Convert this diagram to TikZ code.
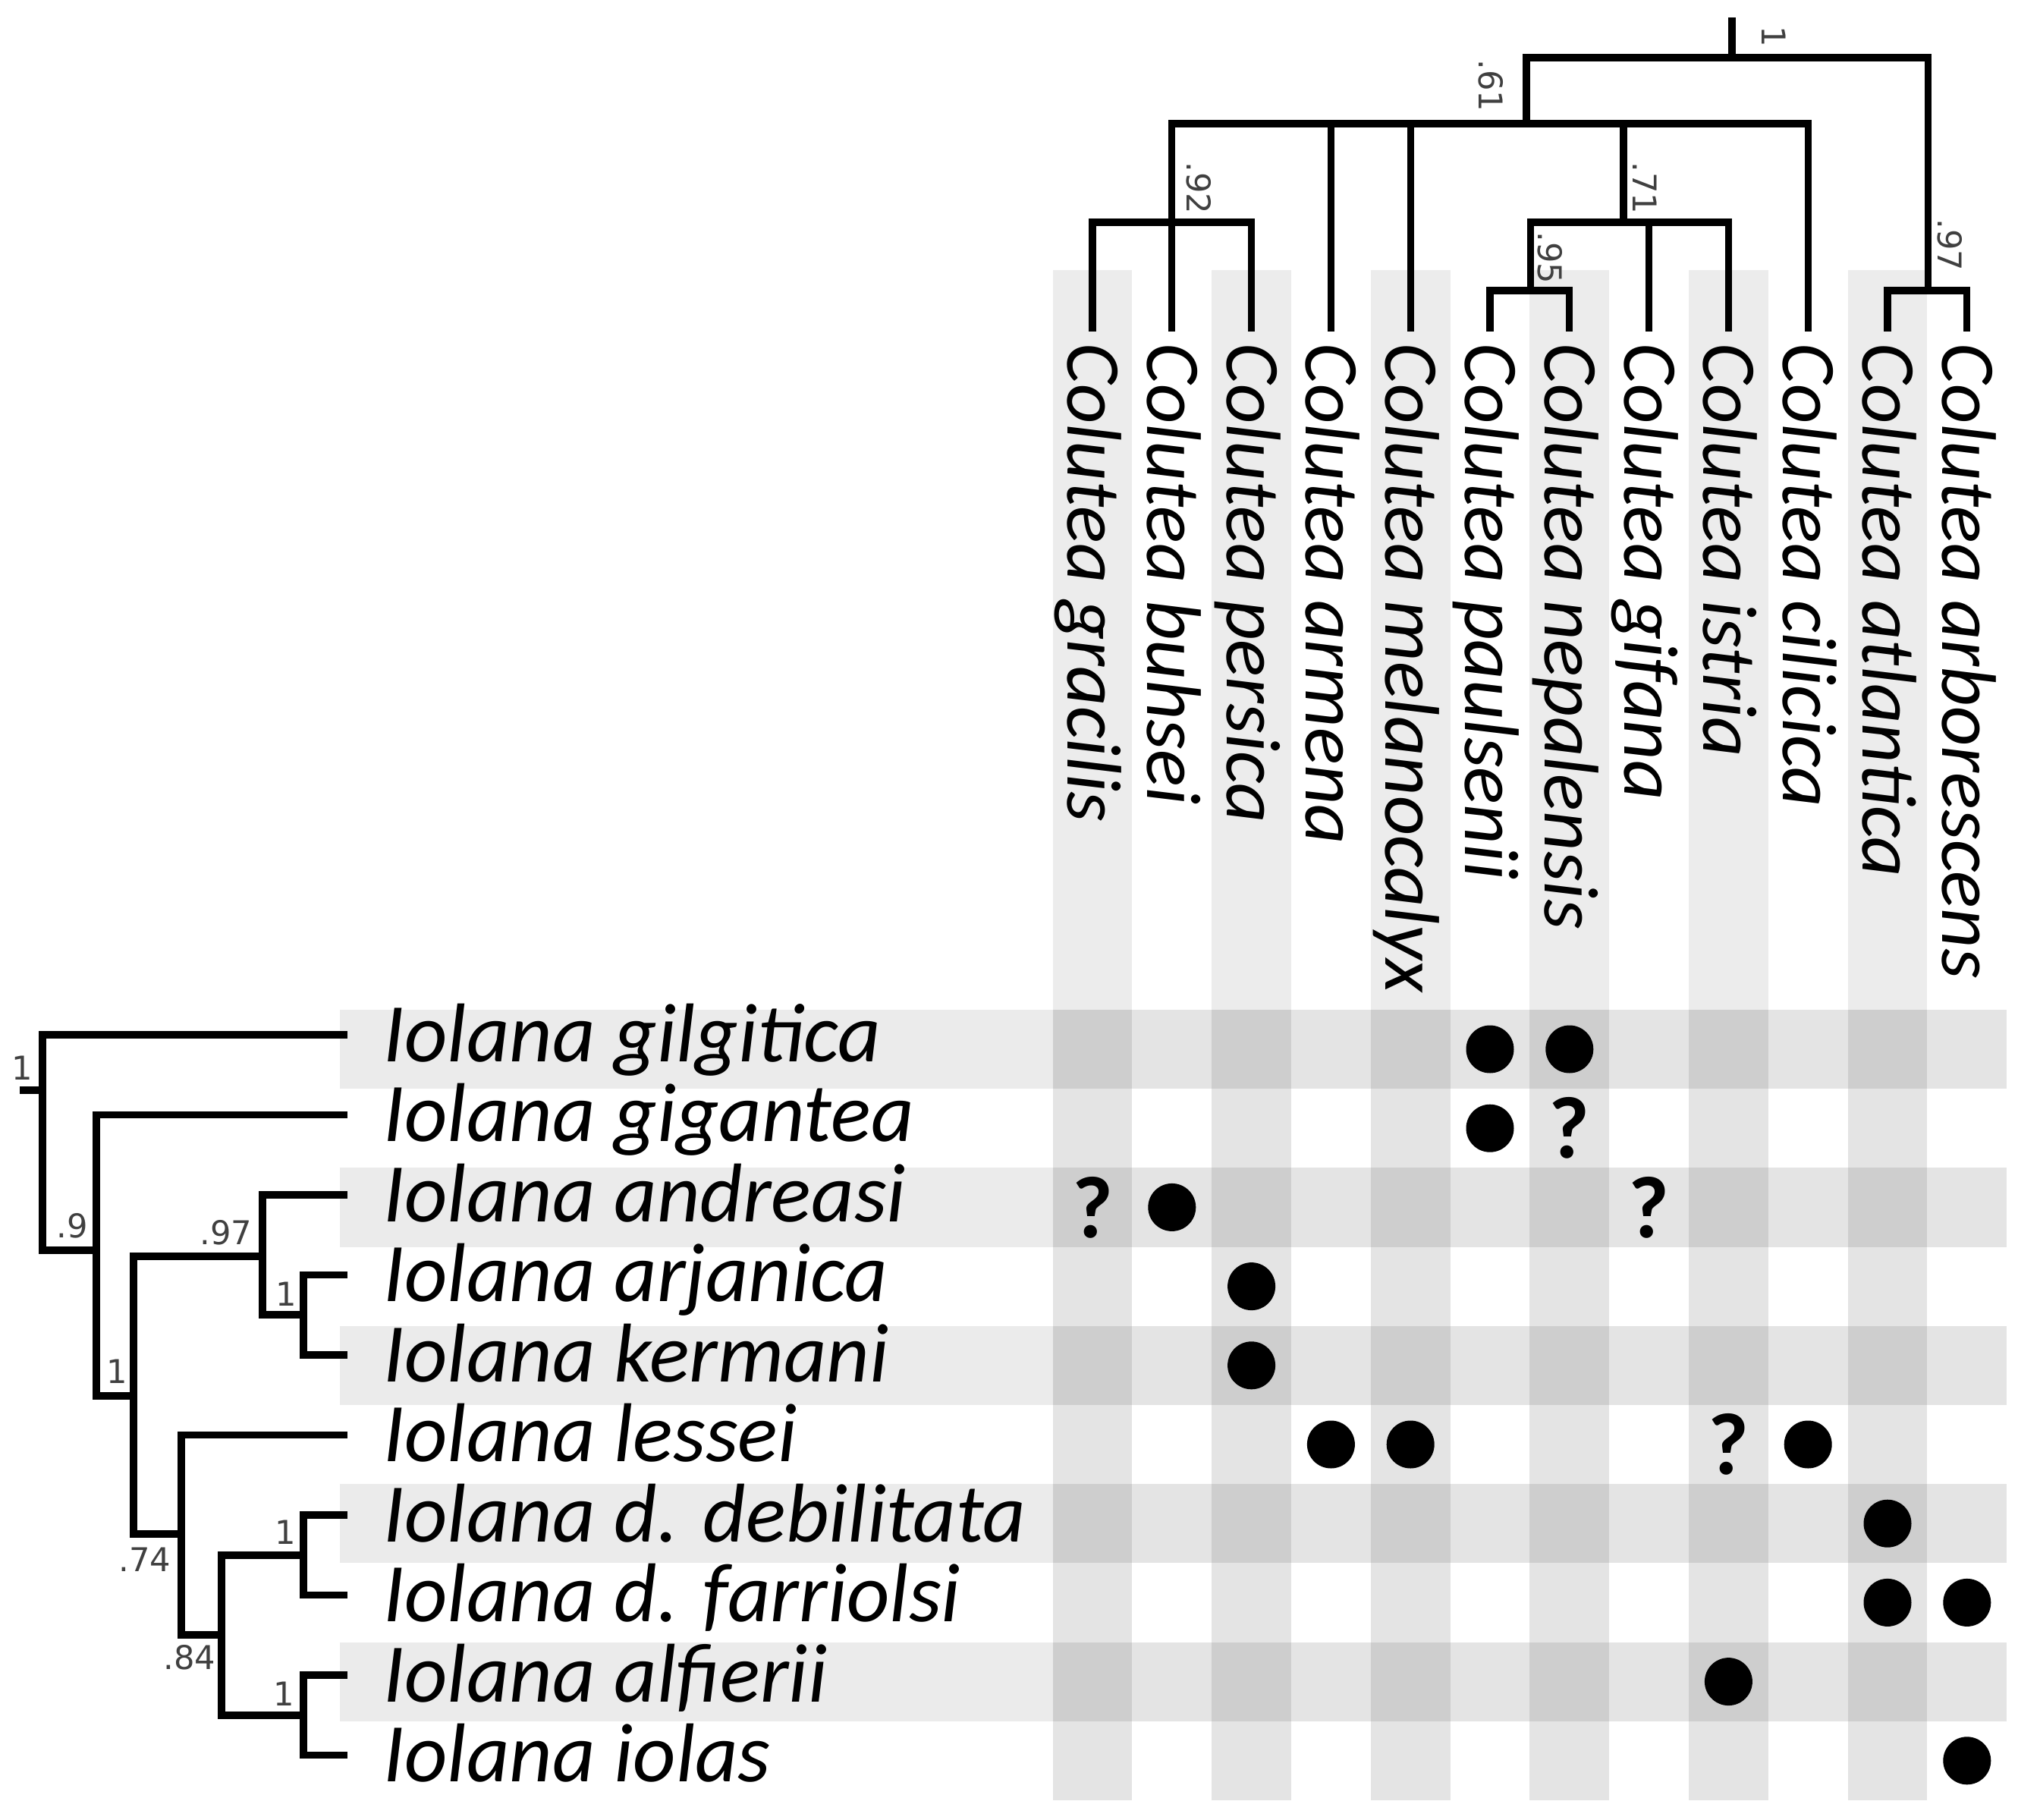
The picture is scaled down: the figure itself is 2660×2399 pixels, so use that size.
\documentclass[tikz,border=0pt]{standalone}
\usepackage{fontspec}
\setmainfont{Carlito}
\newfontfamily\supfont{DejaVu Sans}
\definecolor{colstripe}{HTML}{ECECEC}
\definecolor{rowstripe}{HTML}{EBEBEB}
\definecolor{cellone}{HTML}{E4E4E4}
\definecolor{celltwo}{HTML}{CECECE}
\begin{document}
\begin{tikzpicture}[x=0.25pt,y=-0.25pt,
  branch/.style={line width=2.3pt, line cap=rect, line join=miter},
  sup/.style={font=\supfont\fontsize{10.8}{11}\selectfont, text=black!75, inner sep=0pt},
  rowlab/.style={font=\itshape\fontsize{27.5}{28}\selectfont, anchor=west, inner sep=0pt, text height=17.6pt, text depth=0pt},
  collab/.style={font=\itshape\fontsize{25.5}{26}\selectfont, rotate=-90, anchor=west, inner sep=0pt, text height=16.3pt, text depth=0pt},
  present/.style={circle, fill=black, inner sep=0pt, minimum size=15.75pt},
  unsure/.style={font=\bfseries\fontsize{29}{30}\selectfont, inner sep=0pt},
]
\useasboundingbox (0,0) rectangle (2660,2399);

% shaded columns above the matrix
\foreach \c in {0,2,...,10}
  \fill[colstripe] ({1440+104.8*\c-52.4},356) rectangle ({1440+104.8*\c+52.4},1331);
% shaded rows beside the matrix
\foreach \r in {0,2,...,8}
  \fill[rowstripe] (448,{1331+104.2*\r}) rectangle (1387.6,{1331+104.2*\r+104.2});
% matrix: single shading
\foreach \c in {0,2,...,10}
  \fill[cellone] ({1440+104.8*\c-52.4},1331) rectangle ({1440+104.8*\c+52.4},2373);
\foreach \r in {0,2,...,8}
  \fill[cellone] (1387.6,{1331+104.2*\r}) rectangle (2645,{1331+104.2*\r+104.2});
% matrix: double shading
\foreach \c in {0,2,...,10}
  \foreach \r in {0,2,...,8}
    \fill[celltwo] ({1440+104.8*\c-52.4},{1331+104.2*\r}) rectangle ({1440+104.8*\c+52.4},{1331+104.2*\r+104.2});

% ---------- top tree (Colutea) ----------
\foreach \j in {0,...,11}
  \coordinate (t\j) at ({1440+104.8*\j},432);
\coordinate (T92c) at (1544.8,293);
\coordinate (T92) at (1544.8,163);
\coordinate (T95c) at (2017.4,383);
\coordinate (T95) at (2017.4,293);
\coordinate (T71c) at (2140,293);
\coordinate (T71) at (2140,163);
\coordinate (T61c) at (2012,163);
\coordinate (T61) at (2012,76);
\coordinate (T97c) at (2541.4,383);
\coordinate (T97) at (2541.4,76);
\coordinate (Troot) at (2283,76);
\coordinate (Ttop) at (2283,28);

\draw[branch] (t0) |- (T92c) -| (t2);
\draw[branch] (t1) -- (T92);
\draw[branch] (t5) |- (T95c) -| (t6);
\draw[branch] (T95c) -- (T95);
\draw[branch] (T95) -| (t8);
\draw[branch] (t7) -- (t7 |- T71c);
\draw[branch] (T71c) -- (T71);
\draw[branch] (T92) -| (t9);
\draw[branch] (t3) -- (t3 |- T61c);
\draw[branch] (t4) -- (t4 |- T61c);
\draw[branch] (T61c) -- (T61);
\draw[branch] (t10) |- (T97c) -| (t11);
\draw[branch] (T97c) -- (T97);
\draw[branch] (T61) -- (T97);
\draw[branch] (Troot) -- (Ttop);

\node[sup, rotate=-90] (sTroot) at (2338,48) {1};
\node[sup, rotate=-90] (sT61) at (1965,113) {.61};
\node[sup, rotate=-90] (sT92) at (1580,248) {.92};
\node[sup, rotate=-90] (sT71) at (2168,248) {.71};
\node[sup, rotate=-90] (sT95) at (2043,340) {.95};
\node[sup, rotate=-90] (sT97) at (2570,323) {.97};

\foreach \name [count=\j from 0] in {gracilis,buhsei,persica,armena,melanocalyx,paulsenii,nepalensis,gifana,istria,cilicica,atlantica,arborescens}
  \node[collab] (C\j) at ({1440+104.8*\j},452) {Colutea \name};

% ---------- left tree (Iolana) ----------
\foreach \name [count=\i from 0] in {gilgitica,gigantea,andreasi,arjanica,kermani,lessei,d. debilitata,d. farriolsi,alfierii,iolas}
{
  \coordinate (l\i) at (453,{1364+105.5*\i});
  \node[rowlab] (R\i) at (505,{1364+105.5*\i}) {Iolana \name};
}
\coordinate (Lrs) at (31,1437);
\coordinate (Lr) at (56,1437);
\coordinate (L9) at (127,1648);
\coordinate (L1) at (176,1840);
\coordinate (L97) at (346,1656);
\coordinate (Lak) at (400,1733);
\coordinate (L74) at (239,2022);
\coordinate (L84) at (292,2155);
\coordinate (Ldf) at (400,2050);
\coordinate (Lai) at (400,2261);

\draw[branch] (Lrs) -- (Lr);
\draw[branch] (l0) -| (Lr) |- (L9);
\draw[branch] (l1) -| (L9) |- (L1);
\draw[branch] (L97) -| (L1) |- (L74);
\draw[branch] (l2) -| (L97) |- (Lak);
\draw[branch] (l3) -| (Lak) |- (l4);
\draw[branch] (l5) -| (L74) |- (L84);
\draw[branch] (Ldf) -| (L84) |- (Lai);
\draw[branch] (l6) -| (Ldf) |- (l7);
\draw[branch] (l8) -| (Lai) |- (l9);

\node[sup] (sLr) at (29,1408) {1};
\node[sup] (sL9) at (95,1616) {.9};
\node[sup] (sL1) at (154,1808) {1};
\node[sup] (sL97) at (298,1625) {.97};
\node[sup] (sLak) at (377,1706) {1};
\node[sup] (sL74) at (191,2056) {.74};
\node[sup] (sL84) at (250,2185) {.84};
\node[sup] (sLdf) at (376,2020) {1};
\node[sup] (sLai) at (374,2233) {1};

% ---------- matrix marks ----------
\foreach \r/\c in {0/5,0/6,1/5,2/1,3/2,4/2,5/3,5/4,5/9,6/10,7/10,7/11,8/8,9/11}
  \node[present] (d\r-\c) at ({1440+104.8*\c},{1383+104.2*\r}) {};
\foreach \r/\c in {1/6,2/0,2/7,5/8}
  \node[unsure] (q\r-\c) at ({1440+104.8*\c},{1383+104.2*\r}) {?};
\end{tikzpicture}
\end{document}
